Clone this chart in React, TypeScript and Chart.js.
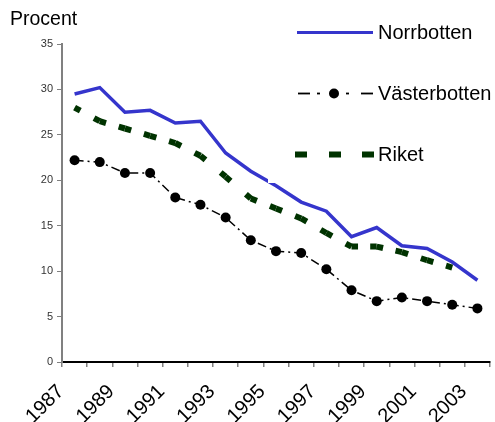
import React, { useEffect, useRef } from "react";
import { Chart, registerables } from "chart.js";

Chart.register(...registerables);

const years = [
  "1987", "1988", "1989", "1990", "1991", "1992", "1993", "1994", "1995",
  "1996", "1997", "1998", "1999", "2000", "2001", "2002", "2003",
];
const norrbotten = [29.5, 30.2, 27.5, 27.7, 26.3, 26.5, 23.0, 21.0, 19.4, 17.6, 16.6, 13.8, 14.8, 12.8, 12.5, 11.0, 9.0];
const vasterbotten = [22.2, 22.0, 20.8, 20.8, 18.1, 17.3, 15.9, 13.4, 12.2, 12.0, 10.2, 7.9, 6.7, 7.1, 6.7, 6.3, 5.9];
const riket = [28.0, 26.5, 25.7, 24.9, 24.1, 22.7, 20.4, 18.0, 16.9, 15.8, 14.2, 12.7, 12.7, 12.1, 11.2, 10.4, null];
const seriesNames = ["Norrbotten", "Västerbotten", "Riket"];
const yMin = 0;
const yMax = 35;
const yStep = 5;
const yTitle = "Procent";

const FONT = "'Liberation Sans', Arial, Helvetica, sans-serif";
const BLUE = "#3535CC";
const GREEN = "#003300";
const BLACK = "#000000";

const overlayPlugin = {
  id: "overlay",
  afterDatasetsDraw(chart: any) {
    const ctx = chart.ctx as CanvasRenderingContext2D;
    ctx.save();
    // legend background
    ctx.fillStyle = "#ffffff";
    ctx.fillRect(268, 0, 227, 183);

    // title
    ctx.fillStyle = "#000";
    ctx.font = `19.5px ${FONT}`;
    ctx.textAlign = "left";
    ctx.textBaseline = "alphabetic";
    ctx.fillText(yTitle, 10, 25);

    ctx.font = `20px ${FONT}`;
    // Norrbotten
    ctx.strokeStyle = BLUE;
    ctx.lineWidth = 3;
    ctx.beginPath();
    ctx.moveTo(297, 32.5);
    ctx.lineTo(373, 32.5);
    ctx.stroke();
    ctx.fillText(seriesNames[0], 378, 38.5);

    // Västerbotten
    ctx.strokeStyle = BLACK;
    ctx.lineWidth = 1.8;
    const segs = [[298, 310], [317, 320], [346, 349], [361, 373]];
    segs.forEach(([a, b]) => {
      ctx.beginPath();
      ctx.moveTo(a, 93.5);
      ctx.lineTo(b, 93.5);
      ctx.stroke();
    });
    ctx.fillStyle = BLACK;
    ctx.beginPath();
    ctx.arc(334, 93.5, 5, 0, Math.PI * 2);
    ctx.fill();
    ctx.fillText(seriesNames[1], 378, 100);

    // Riket
    ctx.fillStyle = GREEN;
    [[295, 307], [329, 341], [362, 374]].forEach(([a, b]) => {
      ctx.fillRect(a, 151.5, b - a, 6);
    });
    ctx.fillStyle = "#000";
    ctx.fillText(seriesNames[2], 378, 161);
    ctx.restore();
  },
};

function segDash(ctx: any) {
  const dx = ctx.p1.x - ctx.p0.x;
  const dy = ctx.p1.y - ctx.p0.y;
  const L = Math.sqrt(dx * dx + dy * dy);
  const half = 6.5;
  return [half, Math.max(L - 2 * half, 0.01), half, 0.0001 + (ctx.p0DataIndex % 7) * 1e-6];
}

export default function App() {
  const ref = useRef<HTMLCanvasElement>(null);
  useEffect(() => {
    if (!ref.current) return;
    const chart = new Chart(ref.current, {
      type: "line",
      data: {
        labels: years,
        datasets: [
          {
            label: seriesNames[0],
            data: norrbotten,
            borderColor: BLUE,
            backgroundColor: BLUE,
            borderWidth: 3.5,
            pointRadius: 0,
            tension: 0,
            order: 2,
          },
          {
            label: seriesNames[1],
            data: vasterbotten,
            borderColor: BLACK,
            backgroundColor: BLACK,
            borderWidth: 1.5,
            borderDash: [9, 4, 2, 4],
            pointRadius: 5,
            pointBorderWidth: 0,
            pointBackgroundColor: BLACK,
            tension: 0,
            order: 0,
          },
          {
            label: seriesNames[2],
            data: riket,
            borderColor: GREEN,
            backgroundColor: GREEN,
            borderWidth: 6,
            borderCapStyle: "butt",
            pointRadius: 0,
            tension: 0,
            spanGaps: false,
            order: 1,
            segment: {
              borderDash: segDash,
            },
          } as any,
        ],
      },
      options: {
        animation: false,
        responsive: false,
        maintainAspectRatio: false,
        layout: { padding: { top: 44, right: 3, left: 0, bottom: 0 } },
        plugins: {
          legend: { display: false },
          tooltip: { enabled: false },
          title: { display: false },
        },
        scales: {
          x: {
            type: "category",
            offset: true,
            grid: {
              offset: true,
              drawOnChartArea: false,
              drawTicks: true,
              tickLength: 5,
              color: "#808080",
              lineWidth: 1.5,
            },
            border: { display: true, color: "#000000", width: 2 },
            ticks: {
              autoSkip: false,
              minRotation: 45,
              maxRotation: 45,
              labelOffset: -13.7,
              padding: 13,
              color: "#000",
              font: { family: FONT, size: 20 },
              callback: (_v: any, i: number) => (i % 2 === 0 ? years[i] : ""),
            },
            afterFit: (s: any) => {
              s.height = 60;
              s.paddingLeft = 0;
              s.paddingRight = 0;
            },
          },
          y: {
            min: yMin,
            max: yMax,
            ticks: {
              stepSize: yStep,
              padding: 4,
              color: "#333333",
              font: { family: FONT, size: 11 },
            },
            grid: {
              drawOnChartArea: false,
              drawTicks: true,
              tickLength: 5,
              color: "#808080",
              lineWidth: 1,
            },
            border: { display: true, color: "#808080", width: 2 },
            afterFit: (s: any) => {
              s.width = 62;
              s.paddingTop = 0;
              s.paddingBottom = 0;
            },
          },
        },
      },
      plugins: [overlayPlugin],
    } as any);
    return () => chart.destroy();
  }, []);
  return (
    <div style={{ position: "absolute", left: 0, top: 0, width: 495, height: 422, background: "#fff" }}>
      <canvas ref={ref} width={495} height={422} style={{ display: "block" }} />
    </div>
  );
}
